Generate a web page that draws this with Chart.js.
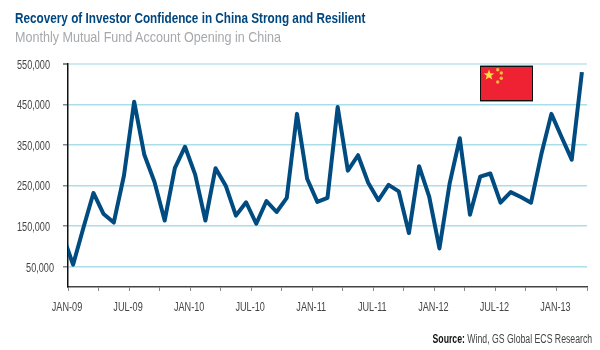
<!DOCTYPE html>
<html>
<head>
<meta charset="utf-8">
<script src="https://cdn.jsdelivr.net/npm/chart.js@4"></script>
<style>
  body { margin: 0; background: #fff; }
  #wrap { position: relative; width: 600px; height: 350px; overflow: hidden; font-family: "Liberation Sans", sans-serif; }
  #wrap div { position: absolute; white-space: nowrap; }
  #title { left: 15px; top: 10px; font-size: 14.5px; font-weight: bold; color: #00467f; transform: scaleX(0.81); transform-origin: left; }
  #subtitle { left: 15px; top: 29px; font-size: 14.5px; color: #a6a8ab; transform: scaleX(0.866); transform-origin: left; }
  #source { right: 8px; top: 332px; font-size: 12px; color: #444; transform: scaleX(0.725); transform-origin: right; }
  #source b { color: #111; }
  #flag { position: absolute; left: 480px; top: 65px; }
</style>
</head>
<body>
<div id="wrap">
  <canvas id="chart" width="600" height="350"></canvas>
  <div id="title">Recovery of Investor Confidence in China Strong and Resilient</div>
  <div id="subtitle">Monthly Mutual Fund Account Opening in China</div>
  <div id="source"><b>Source:</b> Wind, GS Global ECS Research</div>
  <svg id="flag" width="53" height="37" viewBox="0 0 53 37">
    <rect x="0" y="0" width="53" height="37" fill="#999"/>
    <rect x="0.5" y="1.5" width="52" height="34" fill="#ee2233" stroke="#111"/>
    <polygon fill="#ffdd44" points="9,4.5 10.4,8.2 14.3,8.4 11.2,10.8 12.3,14.6 9,12.4 5.7,14.6 6.8,10.8 3.7,8.4 7.6,8.2"/>
    <circle cx="17.7" cy="4.7" r="1.7" fill="#f7b93e"/>
    <circle cx="21.3" cy="8" r="1.7" fill="#f7b93e"/>
    <circle cx="21.3" cy="13.3" r="1.7" fill="#f7b93e"/>
    <circle cx="17.7" cy="17" r="1.7" fill="#f7b93e"/>
  </svg>
</div>
<script>
// values start one month before the axis, the first point is cut off by the plot edge
const accounts = [127000, 55000, 145000, 232000, 180000, 159000, 275000, 457000, 326000, 259000, 164000, 293000,
  346000, 277000, 164000, 293000, 250000, 176000, 209000, 156000, 212000, 185000, 220000, 427000,
  267000, 210000, 220000, 444000, 287000, 325000, 257000, 214000, 252000, 236000, 133000, 298000,
  222000, 95000, 255000, 367000, 178000, 272000, 280000, 208000, 234000, 222000, 208000, 326000,
  427000, 370000, 314000, 530000];
const xTickLabels = ['JAN-09', '', 'JUL-09', '', 'JAN-10', '', 'JUL-10', '', 'JAN-11', '', 'JUL-11', '', 'JAN-12', '', 'JUL-12', '', 'JAN-13', '', ''];
const yTickValues = [50000, 150000, 250000, 350000, 450000, 550000];

// no narrow font here, so the tick labels are squeezed by hand
const narrowTicks = {
  id: 'narrowTicks',
  afterDraw(chart) {
    const ctx = chart.ctx;
    const squeeze = 0.76;
    ctx.save();
    ctx.font = '12px "Liberation Sans"';
    ctx.fillStyle = '#444';
    ctx.textBaseline = 'middle';
    chart.scales.y.ticks.forEach((t, i) => {
      const right = t.value === 50000 ? 54 : 50;
      ctx.save();
      ctx.translate(right, chart.scales.y.getPixelForTick(i) + 1.5);
      ctx.scale(squeeze, 1);
      ctx.textAlign = 'right';
      ctx.fillText(t.label, 0, 0);
      ctx.restore();
    });
    chart.scales.x.ticks.forEach((t, i) => {
      ctx.save();
      ctx.translate(chart.scales.x.getPixelForTick(i) - 1, 308);
      ctx.scale(squeeze, 1);
      ctx.textAlign = 'center';
      ctx.fillText(t.label, 0, 0);
      ctx.restore();
    });
    ctx.restore();
  }
};

new Chart(document.getElementById('chart'), {
  type: 'line',
  data: {
    datasets: [{
      data: accounts.map((v, i) => ({ x: i - 0.5, y: v })),
      borderColor: '#004b80',
      borderWidth: 4,
      borderJoinStyle: 'round',
      pointRadius: 0,
      tension: 0,
      clip: 0
    }]
  },
  plugins: [narrowTicks],
  options: {
    responsive: false,
    animation: false,
    layout: { padding: { top: 64, right: 13, bottom: 23, left: 0 } },
    plugins: { legend: { display: false }, tooltip: { enabled: false } },
    scales: {
      x: {
        type: 'linear',
        min: 0,
        max: 51,
        afterFit: s => { s.height = 40; },
        grid: { drawOnChartArea: false, tickLength: 4, tickColor: '#888' },
        border: { color: '#444', width: 1.5 },
        ticks: {
          stepSize: 3,
          autoSkip: false,
          maxRotation: 0,
          color: 'rgba(0,0,0,0)',
          callback: v => xTickLabels[v / 3]
        }
      },
      y: {
        min: 0,
        max: 550000,
        afterFit: s => { s.width = 68; },
        afterBuildTicks: s => { s.ticks = yTickValues.map(v => ({ value: v })); },
        grid: {
          color: c => c.tick && c.tick.value === 550000 ? '#cfeaf1' : '#aadeea',
          lineWidth: c => c.tick && c.tick.value === 550000 ? 2 : 1.5,
          tickColor: '#888',
          tickLength: 5
        },
        border: { color: '#111', width: 1.5 },
        ticks: {
          color: 'rgba(0,0,0,0)',
          callback: v => v.toLocaleString('en-US')
        }
      }
    }
  }
});
</script>
</body>
</html>
